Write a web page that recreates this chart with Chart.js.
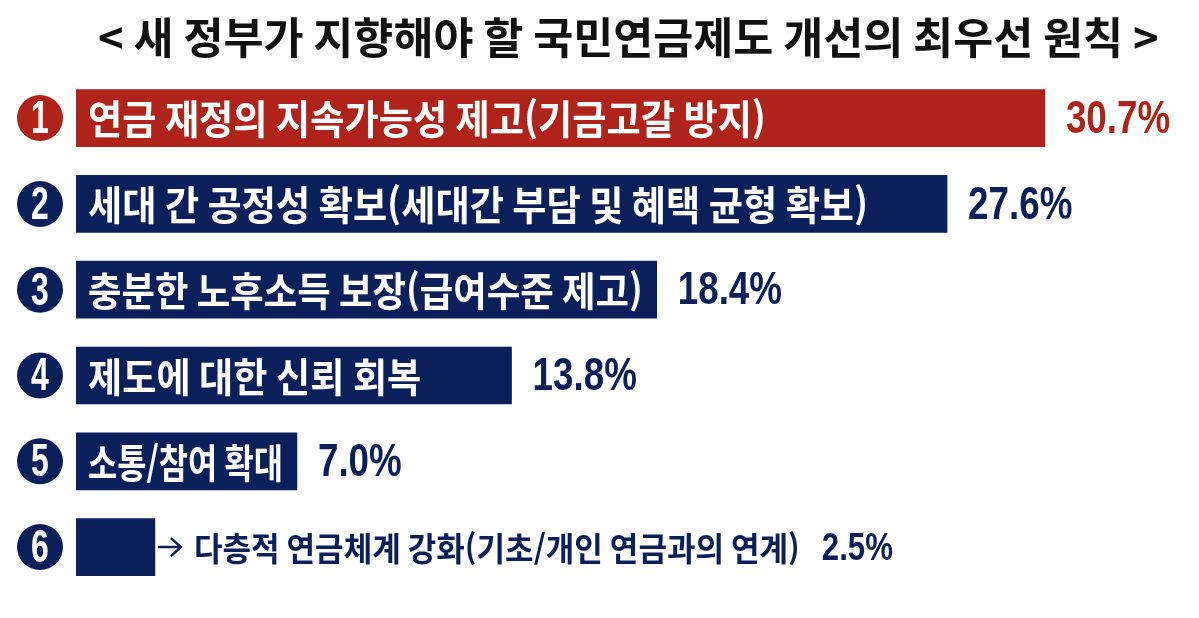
<!DOCTYPE html>
<html lang="ko">
<head>
<meta charset="utf-8">
<script src="https://cdn.jsdelivr.net/npm/chart.js@4.4.1/dist/chart.umd.min.js"></script>
<style>
  html, body { margin: 0; padding: 0; background: #ffffff; }
  #wrap { width: 1199px; height: 618px; position: relative; }
</style>
</head>
<body>
<div id="wrap"><canvas id="c"></canvas></div>
<script>
// ---- data ----
const chartTitle = '< 새 정부가 지향해야 할 국민연금제도 개선의 최우선 원칙 >';
const categories = [
  '연금 재정의 지속가능성 제고(기금고갈 방지)',
  '세대 간 공정성 확보(세대간 부담 및 혜택 균형 확보)',
  '충분한 노후소득 보장(급여수준 제고)',
  '제도에 대한 신뢰 회복',
  '소통/참여 확대',
  '다층적 연금체계 강화(기초/개인 연금과의 연계)'
];
const values = [30.7, 27.6, 18.4, 13.8, 7.0, 2.5];
const rankLabels = ['1', '2', '3', '4', '5', '6'];

// ---- styles ----
const RED = '#B0231B';
const NAVY = '#0B1F5B';
const KR = '"Noto Sans CJK KR", "Noto Sans", sans-serif';
const NUM = '"Liberation Sans", Arial, sans-serif';
const barColors = values.map((v, i) => i === 0 ? RED : NAVY);

function drawScaled(ctx, text, x, y, font, color, sx) {
  ctx.save();
  ctx.font = font;
  ctx.fillStyle = color;
  ctx.textAlign = 'left';
  ctx.textBaseline = 'middle';
  ctx.translate(x, y);
  ctx.scale(sx, 1);
  ctx.fillText(text, 0, 0);
  const w = ctx.measureText(text).width * sx;
  ctx.restore();
  return w;
}
function measureScaled(ctx, text, font, sx) {
  ctx.save();
  ctx.font = font;
  const w = ctx.measureText(text).width * sx;
  ctx.restore();
  return w;
}

const labelPlugin = {
  id: 'barLabels',
  afterDatasetsDraw(chart) {
    const ctx = chart.ctx;
    const meta = chart.getDatasetMeta(0);
    const area = chart.chartArea;
    meta.data.forEach((bar, i) => {
      const p = bar.getProps(['x', 'y', 'base'], true);
      const color = barColors[i];
      const cy = p.y;
      // rank circle
      const cx = area.left - 36;
      ctx.save();
      ctx.beginPath();
      ctx.arc(cx, cy, 23, 0, Math.PI * 2);
      ctx.fillStyle = color;
      ctx.fill();
      ctx.restore();
      const nFont = 'bold 47px ' + NUM;
      const nsx = 0.68;
      const nw = measureScaled(ctx, rankLabels[i], nFont, nsx);
      drawScaled(ctx, rankLabels[i], cx - nw / 2, cy + 2, nFont, '#ffffff', nsx);

      // category label: condensed to fit inside the bar when possible
      const lFont = 'bold 40px ' + KR;
      const rawW = measureScaled(ctx, categories[i], lFont, 1);
      const barW = p.x - p.base;
      const avail = barW - 26;
      const sx = Math.min(0.93, avail / rawW);
      let valueX;
      let vFont = 'bold 46px ' + NUM;
      if (sx >= 0.7) {
        drawScaled(ctx, categories[i], p.base + 12, cy + 1, lFont, '#ffffff', sx);
        valueX = p.x + 21;
      } else {
        // outside label with arrow
        const ax0 = p.x + 3, ax1 = p.x + 26;
        ctx.save();
        ctx.strokeStyle = color;
        ctx.lineWidth = 2.5;
        ctx.beginPath();
        ctx.moveTo(ax0, cy);
        ctx.lineTo(ax1, cy);
        ctx.moveTo(ax1 - 10, cy - 9);
        ctx.lineTo(ax1, cy);
        ctx.lineTo(ax1 - 10, cy + 9);
        ctx.stroke();
        ctx.restore();
        const oFont = 'bold 33px ' + KR;
        const ow = drawScaled(ctx, categories[i], p.x + 39, cy + 1, oFont, color, 0.94);
        valueX = p.x + 39 + ow + 22;
        vFont = 'bold 39px ' + NUM;
      }
      // value label
      drawScaled(ctx, values[i].toFixed(1) + '%', valueX, cy + 2, vFont, color, 0.8);
    });
  }
};

new Chart(document.getElementById('c'), {
  type: 'bar',
  data: {
    labels: categories,
    datasets: [{
      data: values,
      backgroundColor: barColors,
      borderWidth: 0,
      barThickness: 57
    }]
  },
  options: {
    indexAxis: 'y',
    responsive: true,
    maintainAspectRatio: false,
    animation: false,
    layout: { padding: { left: 76, right: 18.4, top: 0, bottom: 28 } },
    scales: {
      x: { display: false, min: 0, max: 35 },
      y: { display: false }
    },
    plugins: {
      legend: { display: false },
      tooltip: { enabled: false },
      title: {
        display: true,
        text: chartTitle,
        color: '#111111',
        font: { family: KR, size: 43.5, weight: 'bold' },
        padding: { top: 11, bottom: 12 }
      }
    }
  },
  plugins: [labelPlugin]
});
</script>
</body>
</html>
